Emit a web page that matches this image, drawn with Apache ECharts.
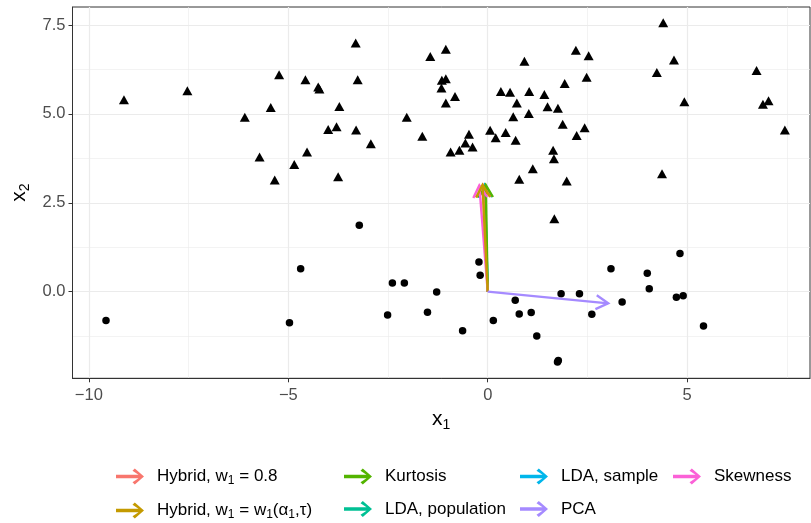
<!DOCTYPE html>
<html>
<head>
<meta charset="utf-8">
<script src="https://cdn.jsdelivr.net/npm/echarts@6/dist/echarts.min.js"></script>
<style>
  html, body { margin: 0; padding: 0; background: #fff; }
  #chart { width: 811px; height: 523px; }
</style>
</head>
<body>
<div id="chart"></div>
<script>
// class 1 (triangles) and class 2 (circles)
const triangles = [
  [-9.12, 5.40], [-7.53, 5.65], [-6.09, 4.91], [-5.72, 3.79], [-5.44, 5.18],
  [-5.34, 3.14], [-5.23, 6.10], [-4.85, 3.58], [-4.57, 5.96], [-4.53, 3.93],
  [-4.25, 5.76], [-4.22, 5.70], [-4.00, 4.56], [-3.79, 4.64], [-3.75, 3.23],
  [-3.72, 5.21], [-3.31, 7.00], [-3.30, 4.55], [-3.26, 5.96], [-2.93, 4.16],
  [-2.03, 4.91], [-1.64, 4.37], [-1.44, 6.62], [-1.16, 5.73], [-1.15, 5.95],
  [-1.05, 5.99], [-1.05, 6.82], [-1.05, 5.31], [-0.93, 3.93], [-0.82, 5.49],
  [-0.71, 3.98], [-0.56, 4.18], [-0.47, 4.43], [-0.38, 4.07], [0.06, 4.54],
  [0.20, 4.33], [0.33, 5.63], [0.45, 4.48], [0.56, 5.61], [0.64, 4.92],
  [0.70, 4.26], [0.73, 5.31], [0.79, 3.16], [0.92, 6.48], [1.03, 5.01],
  [1.04, 5.63], [1.13, 3.46], [1.42, 5.55], [1.50, 5.20], [1.64, 3.98],
  [1.66, 3.74], [1.67, 2.05], [1.76, 5.16], [1.88, 4.71], [1.93, 5.86],
  [1.98, 3.11], [2.21, 6.79], [2.23, 4.39], [2.43, 4.61], [2.48, 6.03],
  [2.53, 6.64], [4.24, 6.17], [4.37, 3.32], [4.40, 7.57], [4.67, 6.52],
  [4.93, 5.34], [6.74, 6.22], [6.90, 5.27], [7.04, 5.37], [7.45, 4.55]
]
const circles = [
  [-9.57, -0.81], [-4.97, -0.88], [-4.69, 0.64], [-3.22, 1.87], [-2.51, -0.66],
  [-2.39, 0.24], [-2.09, 0.24], [-1.51, -0.58], [-1.28, -0.01], [-0.63, -1.10],
  [-0.22, 0.83], [-0.19, 0.46], [0.14, -0.81], [0.69, -0.24], [0.79, -0.63],
  [1.09, -0.59], [1.23, -1.25], [1.75, -1.98], [1.77, -1.94], [1.84, -0.06],
  [2.30, -0.06], [2.61, -0.64], [3.09, 0.64], [3.37, -0.29], [4.00, 0.52],
  [4.05, 0.08], [4.82, 1.07], [4.73, -0.16], [4.90, -0.12], [5.41, -0.97]
]

// projection directions, all drawn from the origin
const methodNames = [
  'Hybrid, w1 = 0.8', 'Hybrid, w1 = w1(α1,τ)', 'Kurtosis', 'LDA, population',
  'LDA, sample', 'PCA', 'Skewness'
]
const methodColors = [
  '#F8766D', '#C49A00', '#53B400', '#00C094', '#00B6EB', '#A58AFF', '#FB61D7'
]
const methodEnds = [
  [-0.12, 3.0], [-0.13, 3.0], [-0.05, 3.0], [-0.08, 3.0],
  [-0.07, 3.0], [3.02, -0.33], [-0.21, 2.99]
]
// order in which the arrows are stacked (last on top)
const drawOrder = [3, 4, 0, 2, 6, 1, 5]
const legendColumns = [[0, 1], [2, 3], [4, 5], [6]]

const xTicks = [-10, -5, 0, 5]
const xMinorTicks = [-7.5, -2.5, 2.5, 7.5]
const yTicks = [0, 2.5, 5, 7.5]
const yMinorTicks = [-1.25, 1.25, 3.75, 6.25]
const xRange = [-10.41, 8.08]
const yRange = [-2.44, 8.01]

const FONT = 'Liberation Sans'
const arrowIcon = 'path://M0,6.2 L22.5,6.2 L16.5,2.2 L18.8,0 L28,8 L18.8,16 L16.5,13.8 L22.5,9.8 L0,9.8 Z'

const legendRich = {
  n: { fontFamily: FONT, fontSize: 17, lineHeight: 20, color: '#000' },
  s: { fontFamily: FONT, fontSize: 12, lineHeight: 12, color: '#000', verticalAlign: 'bottom' },
}
const legendLabels = {
  'Hybrid, w1 = 0.8': '{n|Hybrid, w}{s|1}{n| = 0.8}',
  'Hybrid, w1 = w1(α1,τ)': '{n|Hybrid, w}{s|1}{n| = w}{s|1}{n|(α}{s|1}{n|,τ)}',
}
const legendLeft = [116, 344, 520, 673]

const titleRich = {
  n: { fontFamily: FONT, fontSize: 21, lineHeight: 24, color: '#000' },
  s: { fontFamily: FONT, fontSize: 14, lineHeight: 14, color: '#000', verticalAlign: 'bottom' },
}

const chart = echarts.init(document.getElementById('chart'), null, { renderer: 'canvas' })

function gridLine(axis, value, width) {
  return { [axis]: value, lineStyle: { color: '#EBEBEB', width: width, type: 'solid' } }
}

function renderArrow(params, api) {
  const p0 = api.coord([api.value(0), api.value(1)])
  const p1 = api.coord([api.value(2), api.value(3)])
  const ang = Math.atan2(p1[1] - p0[1], p1[0] - p0[0])
  const len = 14
  const spread = Math.PI / 6
  const h1 = [p1[0] - len * Math.cos(ang - spread), p1[1] - len * Math.sin(ang - spread)]
  const h2 = [p1[0] - len * Math.cos(ang + spread), p1[1] - len * Math.sin(ang + spread)]
  const color = api.visual('color')
  return {
    type: 'group',
    children: [
      {
        type: 'line',
        shape: { x1: p0[0], y1: p0[1], x2: p1[0], y2: p1[1] },
        style: { stroke: color, lineWidth: 2.4, lineCap: 'butt' },
      },
      {
        type: 'polyline',
        shape: { points: [h1, p1, h2] },
        style: { stroke: color, fill: null, lineWidth: 2.4, lineJoin: 'miter' },
      },
    ],
  }
}

const arrowSeries = drawOrder.map((i) => ({
  name: methodNames[i],
  type: 'custom',
  renderItem: renderArrow,
  itemStyle: { color: methodColors[i] },
  data: [[0, 0, methodEnds[i][0], methodEnds[i][1]]],
  z: 3,
  silent: true,
}))

const option = {
  animation: false,
  backgroundColor: '#fff',
  color: methodColors,
  grid: {
    left: 72.5, right: 1, top: 7, bottom: 144.7,
    show: true, borderColor: '#333333', borderWidth: 1, backgroundColor: 'transparent',
  },
  legend: legendColumns.map((col, k) => ({
    orient: 'vertical',
    left: legendLeft[k],
    top: 468,
    padding: 0,
    itemWidth: 28,
    itemHeight: 16,
    itemGap: 15.5,
    selectedMode: false,
    data: col.map((i) => ({ name: methodNames[i], icon: arrowIcon, itemStyle: { color: methodColors[i] } })),
    formatter: (name) => legendLabels[name] || `{n|${name}}`,
    textStyle: { fontFamily: FONT, fontSize: 17, color: '#000', padding: [0, 0, 0, 8], rich: legendRich },
  })),
  xAxis: {
    type: 'value',
    min: xRange[0],
    max: xRange[1],
    name: '{n|x}{s|1}',
    nameLocation: 'middle',
    nameGap: 24,
    nameTextStyle: { rich: titleRich },
    axisLine: { show: true, onZero: false, lineStyle: { color: '#333333', width: 1 } },
    axisTick: { show: true, length: 4, customValues: xTicks, lineStyle: { color: '#333333' } },
    axisLabel: {
      customValues: xTicks,
      margin: 9,
      color: '#4D4D4D',
      fontFamily: FONT,
      fontSize: 16.5,
      formatter: (v) => String(v).replace('-', '\u2212'),
    },
    splitLine: { show: false },
  },
  yAxis: {
    type: 'value',
    min: yRange[0],
    max: yRange[1],
    name: '{n|x}{s|2}',
    nameLocation: 'middle',
    nameRotate: 90,
    nameGap: 40,
    nameTextStyle: { rich: titleRich },
    axisLine: { show: true, onZero: false, lineStyle: { color: '#333333', width: 1 } },
    axisTick: { show: true, length: 4, customValues: yTicks, lineStyle: { color: '#333333' } },
    axisLabel: {
      customValues: yTicks,
      margin: 7,
      color: '#4D4D4D',
      fontFamily: FONT,
      fontSize: 16.5,
      formatter: (v) => Number(v).toFixed(1),
    },
    splitLine: { show: false },
  },
  series: [
    {
      name: 'grid',
      type: 'line',
      data: [],
      silent: true,
      z: 0,
      markLine: {
        silent: true,
        symbol: 'none',
        z: 0,
        label: { show: false },
        animation: false,
        data: [
          ...xMinorTicks.map((v) => gridLine('xAxis', v, 0.6)),
          ...yMinorTicks.map((v) => gridLine('yAxis', v, 0.6)),
          ...xTicks.map((v) => gridLine('xAxis', v, 1.2)),
          ...yTicks.map((v) => gridLine('yAxis', v, 1.2)),
        ],
      },
    },
    {
      name: 'class 1',
      type: 'scatter',
      symbol: 'triangle',
      symbolSize: [10, 9],
      itemStyle: { color: '#000', opacity: 1 },
      data: triangles,
      z: 2,
    },
    {
      name: 'class 2',
      type: 'scatter',
      symbol: 'circle',
      symbolSize: 7.5,
      itemStyle: { color: '#000', opacity: 1 },
      data: circles,
      z: 2,
    },
    ...arrowSeries,
  ],
}

chart.setOption(option)
</script>
</body>
</html>
